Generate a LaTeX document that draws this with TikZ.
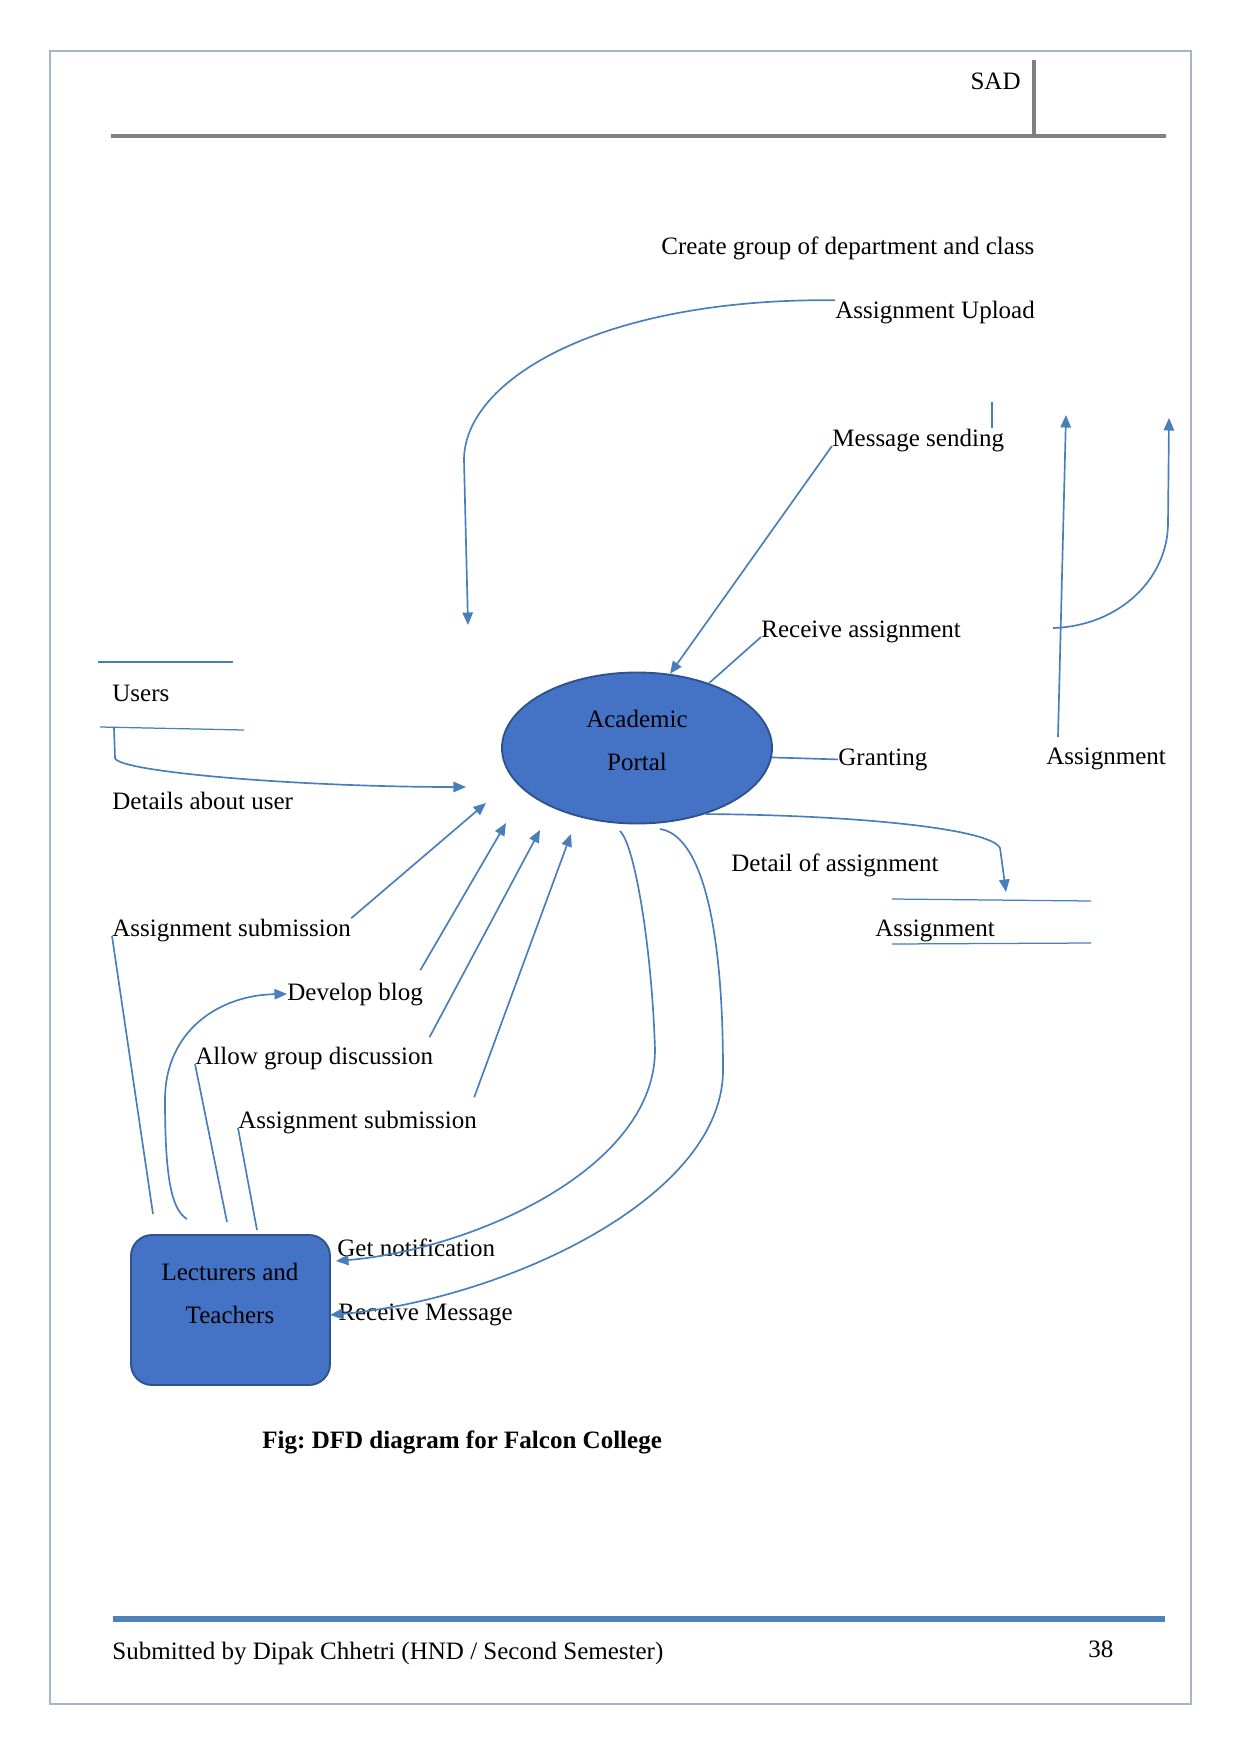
\documentclass[tikz,border=0pt]{standalone}
\usepackage{fontspec}
\setmainfont{Liberation Serif}
\usetikzlibrary{arrows.meta,positioning,calc,shapes.geometric}
\definecolor{dfdblue}{HTML}{4A7EBB}
\definecolor{shapefill}{HTML}{4472C4}
\definecolor{shapeedge}{HTML}{2F528F}
\definecolor{rulegray}{HTML}{808080}
\definecolor{footblue}{HTML}{4F81BD}
\definecolor{pageedge}{HTML}{A6B5C9}
\def\pxu{0.4797pt}
\frenchspacing
\tikzset{
  lbl/.style      ={inner sep=0pt,anchor=base west,font=\fontsize{12pt}{14pt}\selectfont},
  celltext/.style ={inner sep=0pt,align=center,font=\fontsize{12pt}{20.6pt}\selectfont},
  procnode/.style ={ellipse,draw=shapeedge,line width=0.9pt,fill=shapefill,inner sep=0pt,
                    minimum width=270*\pxu,minimum height=151*\pxu},
  extnode/.style  ={draw=shapeedge,line width=0.9pt,fill=shapefill,rounded corners=21*\pxu,
                    minimum width=199*\pxu,minimum height=150*\pxu},
  flow/.style     ={-{Triangle[length=6pt,width=5pt]},line width=0.8pt,draw=dfdblue},
  link/.style     ={line width=0.8pt,draw=dfdblue},
  storeline/.style={line width=0.6pt,draw=dfdblue},
}
\begin{document}
\begin{tikzpicture}[x=0.4797pt,y=-0.4797pt]
\useasboundingbox (0,0) rectangle (1241,1754);
% page frame, header, footer
\draw[pageedge,line width=0.5pt] (50,51) rectangle (1191,1704);
\draw[rulegray,line width=1.8pt] (111,136) -- (1166,136);
\draw[rulegray,line width=1.5pt] (1034,60) -- (1034,136);
\node[lbl,anchor=base east] (sad) at (1021,90) {SAD};
\draw[footblue,line width=2.9pt] (113,1619) -- (1165,1619);
\node[lbl] (foot) at (112,1659) {Submitted by Dipak Chhetri (HND / Second Semester)};
\node[lbl] (pnum) at (1088,1657) {38};
% process and entity
\node[procnode] (portal) at (637,748) {};
\node[celltext] (portaltxt) at (637,740) {Academic\\Portal};
\node[extnode] (lect) at (230.5,1310) {};
\node[celltext] (lecttxt) at (230,1293) {Lecturers and\\Teachers};
% data stores
\node[lbl] (users) at (112,701) {Users};
\draw[storeline] (98,662) -- (233,662);
\draw[storeline] (100,727) -- (244,730);
\node[lbl] (astore) at (875,936) {Assignment};
\draw[storeline] (892,899) -- (1091,901);
\draw[storeline] (892,944) -- (1091,943);
% flow labels
\node[lbl] (grp) at (661,254) {Create group of department and class};
\node[lbl] (upload) at (835,318) {Assignment Upload};
\node[lbl] (msg) at (832,446) {Message sending};
\node[lbl] (recv) at (761,637) {Receive assignment};
\node[lbl] (grant) at (838,765) {Granting};
\node[lbl] (asgn) at (1046,764) {Assignment};
\node[lbl] (details) at (112,809) {Details about user};
\node[lbl] (detail) at (731,871) {Detail of assignment};
\node[lbl] (sub1) at (112,936) {Assignment submission};
\node[lbl] (blog) at (287,1000) {Develop blog};
\node[lbl] (discuss) at (195,1064) {Allow group discussion};
\node[lbl] (sub2) at (238,1128) {Assignment submission};
\node[lbl] (notify) at (337,1256) {Get notification};
\node[lbl] (rmsg) at (338,1320) {Receive Message};
\node[lbl,font=\fontsize{12pt}{14pt}\selectfont\bfseries] (caption) at (262,1448)
  {Fig: DFD diagram for Falcon College};
% free ends
\coordinate (usr-out) at (114,728);
\coordinate (usr-in) at (466,787);
\coordinate (upload-in) at (468,625);
\coordinate (tick) at (992,402);
\coordinate (up1-foot) at (1058,737);
\coordinate (up1-tip) at (1066,415);
\coordinate (up2-foot) at (1053,628);
\coordinate (up2-tip) at (1169,418);
\coordinate (det-in) at (1006,892);
\coordinate (sub1-tip) at (486,803);
\coordinate (blog-tip) at (506,823);
\coordinate (disc-tip) at (540,830);
\coordinate (sub2-tip) at (571,834);
\coordinate (l1) at (153,1214);
\coordinate (l2) at (187,1219);
\coordinate (l3) at (227,1222);
\coordinate (l4) at (257,1230);
\coordinate (nt-out) at (620,831);
\coordinate (nt-in) at (336,1261);
\coordinate (rm-out) at (660,829);
\coordinate (rm-in) at (330,1315);
% flows round the portal
\draw[flow] (usr-out) -- (115,758) .. controls (118,772) and (300,787) .. (usr-in);
\draw[flow] (upload.north west) .. controls (600,298) and (464,380) .. (464,460) -- (upload-in);
\draw[link] (tick) -- (tick |- msg.north);
\draw[flow] (msg.base west) -- (portal.66);
\draw[link] (recv.base west) -- (portal.42);
\draw[link] (portal.-4) -- (grant.west);
\draw[flow] (up1-foot) -- (up1-tip);
\draw[flow] (up2-foot) .. controls (1120,626) and (1168,578) .. (1168,523) -- (up2-tip);
\draw[flow] (portal.-44) .. controls (850,815) and (990,828) .. (1000,848) -- (det-in);
% lecturers side
\draw[flow] (sub1.north east) -- (sub1-tip);
\draw[link] (sub1.base west) -- (l1);
\draw[flow] ($(blog.north east)+(-3,-12)$) -- (blog-tip);
\draw[flow] (l2) .. controls (172,1210) and (165,1180) .. (165,1100)
  .. controls (165,1030) and (220,995) .. (blog.west);
\draw[flow] ($(discuss.north east)+(-4,-9)$) -- (disc-tip);
\draw[link] (discuss.base west) -- (l3);
\draw[flow] ($(sub2.north east)+(-3,-13)$) -- (sub2-tip);
\draw[link] (sub2.base west) -- (l4);
\draw[flow] (nt-out) .. controls (635,845) and (652,950) .. (655,1050)
  .. controls (655,1170) and (470,1250) .. (nt-in);
\draw[flow] (rm-out) .. controls (700,835) and (723,920) .. (723,1070)
  .. controls (723,1200) and (500,1300) .. (rm-in);
\end{tikzpicture}
\end{document}
